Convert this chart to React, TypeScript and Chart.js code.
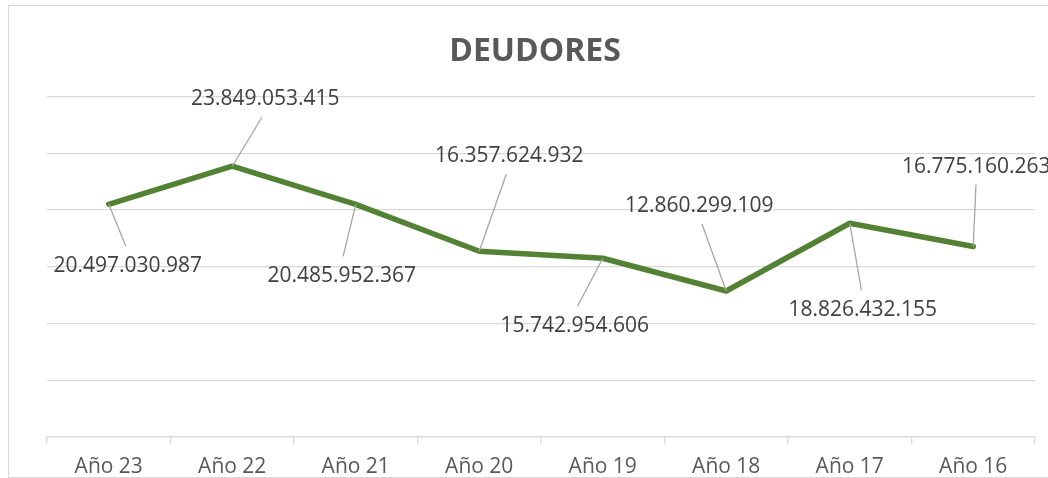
import React, { useEffect, useRef } from "react";
import { Chart, registerables } from "chart.js";

Chart.register(...registerables);

const categories = ["Año 23", "Año 22", "Año 21", "Año 20", "Año 19", "Año 18", "Año 17", "Año 16"];
const deudores = [20497030987, 23849053415, 20485952367, 16357624932, 15742954606, 12860299109, 18826432155, 16775160263];
const valueLabels = ["20.497.030.987", "23.849.053.415", "20.485.952.367", "16.357.624.932", "15.742.954.606", "12.860.299.109", "18.826.432.155", "16.775.160.263"];
const yMin = 0;
const yMax = 30000000000;
const yStep = 5000000000;
const titleText = "DEUDORES";

// label placement offsets (dx, dy in px) relative to each point
const labelOffsetX = [19, 33, -14, 30, -28, -27, 13, 3];
const labelOffsetY = [62, -67, 72, -95, 68, -85, 87, -80];

const leaderPlugin = {
  id: "leaderLabels",
  afterDatasetsDraw(chart: any) {
    const ctx = chart.ctx;
    const meta = chart.getDatasetMeta(0);
    ctx.save();
    ctx.font = "21px 'Open Sans'";
    ctx.textAlign = "center";
    ctx.textBaseline = "middle";
    meta.data.forEach((pt: any, i: number) => {
      const x = pt.x;
      const y = pt.y;
      const lx = x + labelOffsetX[i];
      const ly = y + labelOffsetY[i];
      const endY = labelOffsetY[i] > 0 ? ly - 20 : ly + 18;
      const endX = lx - labelOffsetX[i] * 0.1;
      ctx.strokeStyle = "#a6a6a6";
      ctx.lineWidth = 1.3;
      ctx.beginPath();
      ctx.moveTo(x, y);
      ctx.lineTo(endX, endY);
      ctx.stroke();
      ctx.fillStyle = "#404040";
      ctx.fillText(valueLabels[i], lx, ly);
    });
    // title centred on the canvas
    ctx.font = "bold 32px 'Open Sans'";
    ctx.fillStyle = "#595959";
    ctx.fillText(titleText, chart.width / 2, 46);
    ctx.restore();
  },
};

export default function App() {
  const ref = useRef<HTMLCanvasElement | null>(null);
  useEffect(() => {
    if (!ref.current) return;
    const chart = new Chart(ref.current, {
      type: "line",
      data: {
        labels: categories,
        datasets: [
          {
            label: "Deudores",
            data: deudores,
            borderColor: "#548235",
            backgroundColor: "#548235",
            borderWidth: 5.5,
            pointRadius: 0,
            tension: 0,
            borderCapStyle: "round",
            borderJoinStyle: "round",
          },
        ],
      },
      options: {
        animation: false,
        responsive: false,
        maintainAspectRatio: false,
        layout: { padding: { left: 38, right: 26, top: 0, bottom: 0 } },
        plugins: {
          legend: { display: false },
          tooltip: { enabled: false },
          title: {
            display: true,
            text: titleText,
            color: "rgba(0,0,0,0)",
            font: { family: "'Open Sans'", size: 32, weight: "bold" },
            padding: { top: 24, bottom: 28 },
          },
        },
        scales: {
          x: {
            offset: true,
            afterFit: (s: any) => {
              s.height = 36;
            },
            grid: {
              offset: true,
              drawOnChartArea: false,
              drawTicks: true,
              tickLength: 7,
              color: "#d9d9d9",
              lineWidth: 1.3,
            },
            border: { display: true, color: "#d9d9d9", width: 1.3 },
            ticks: {
              color: "#595959",
              font: { family: "'Open Sans'", size: 21 },
              padding: 10,
              maxRotation: 0,
            },
          },
          y: {
            min: yMin,
            max: yMax,
            ticks: { display: false, stepSize: yStep },
            grid: { color: "#d9d9d9", lineWidth: 1.3, drawTicks: false },
            border: { display: false },
          },
        },
      },
      plugins: [leaderPlugin],
    });
    return () => chart.destroy();
  }, []);

  return (
    <div style={{ position: "absolute", left: 8, top: 5, width: 1040, height: 473, overflow: "hidden" }}>
      <canvas ref={ref} width={1052} height={467} style={{ position: "absolute", left: 1, top: 1, width: 1052, height: 467 }} />
      <div
        style={{
          position: "absolute",
          left: 0,
          top: 0,
          width: 1060,
          height: 473,
          boxSizing: "border-box",
          border: "1px solid #d9d9d9",
          pointerEvents: "none",
        }}
      />
    </div>
  );
}
